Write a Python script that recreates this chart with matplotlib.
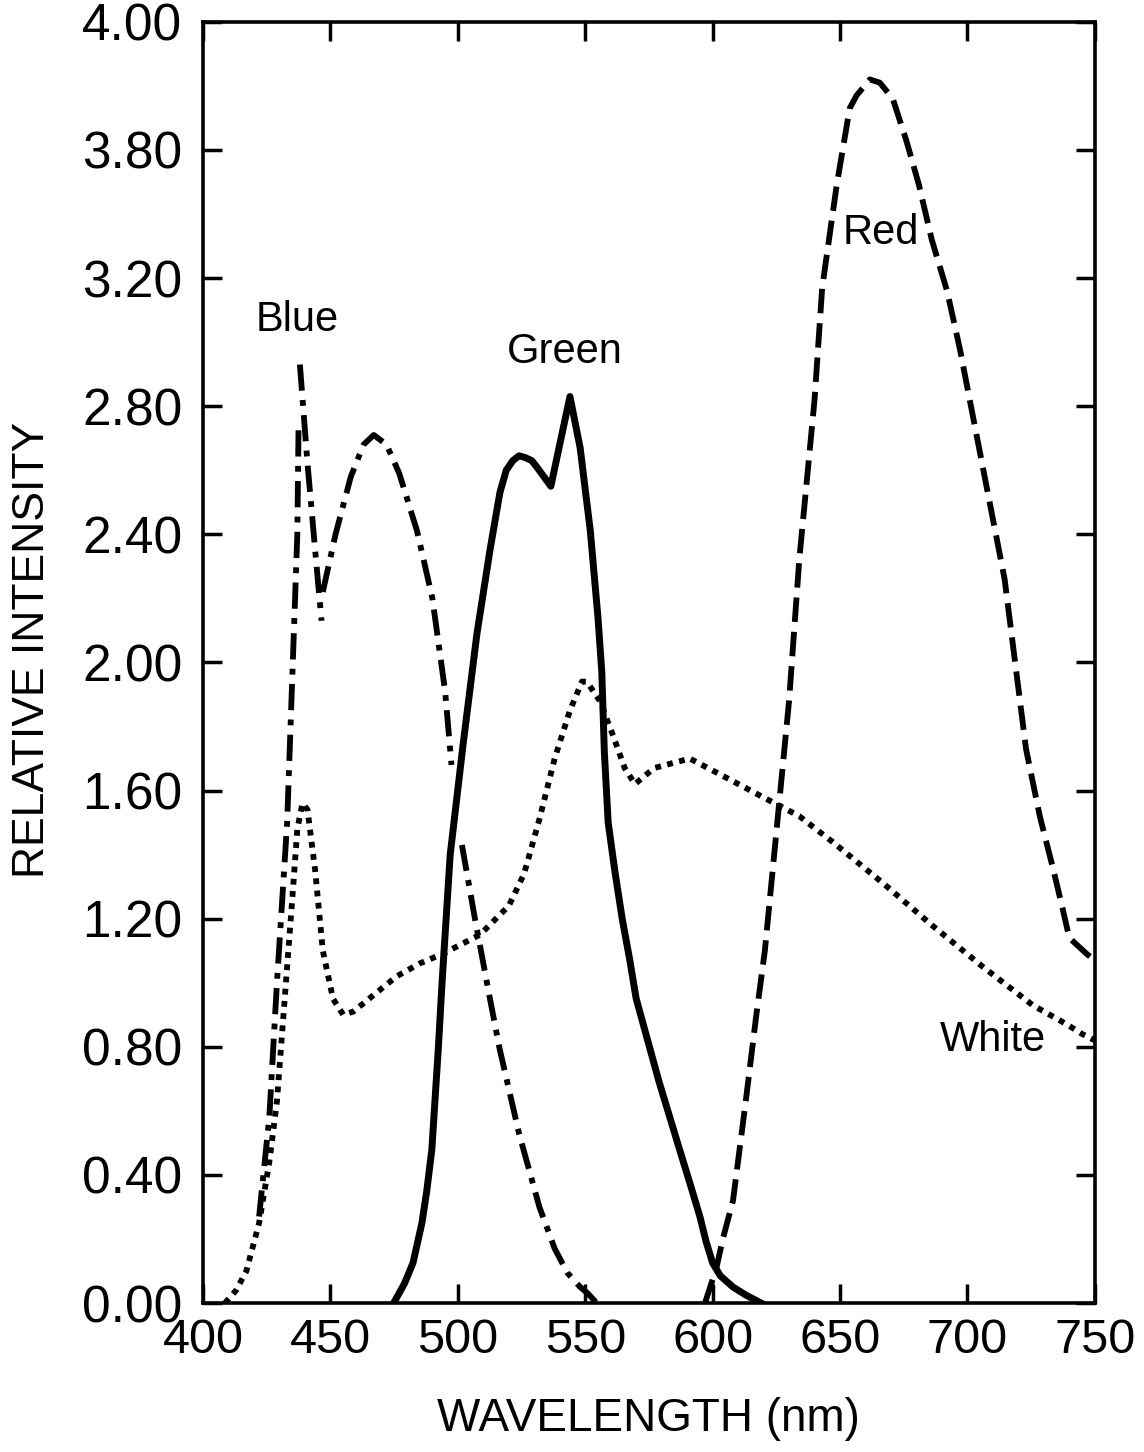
import numpy as np
import matplotlib
matplotlib.use("Agg")
import matplotlib.pyplot as plt

nan = np.nan

# Blue (drawn in several strokes, NaN = pen lifted)
blue_x = [422, 426, 429, 433, 437, 437.5, nan,
          438, 441, 444, 446.5, nan,
          447, 452, 458, 463, 467, 472, 477, 484, 490, 495, 497.5, nan,
          501.6, 506.7, 512.6, 516.5, 524, 532, 538, 543, 548, 551, 554.5]
blue_y = [0.27, 0.58, 1.00, 1.50, 2.40, 2.75, nan,
          2.93, 2.62, 2.35, 2.13, nan,
          2.22, 2.40, 2.58, 2.68, 2.71, 2.68, 2.59, 2.41, 2.20, 1.91, 1.68, nan,
          1.43, 1.20, 0.95, 0.79, 0.53, 0.30, 0.17, 0.094, 0.05, 0.03, 0.0]

green_x = [474.8, 479, 482.4, 485.9, 487.8, 489.8, 491, 492.3, 493.8, 497, 502, 507.5,
           512.6, 516.5, 519, 521.6, 524, 526.3, 529, 531, 536.5, 544, 548, 552,
           555, 556.5, 557.5, 559, 561.6, 564.5, 567.5, 570, 579, 587, 592, 595,
           597.5, 600, 603, 608, 613, 619]
green_y = [0.0, 0.06, 0.125, 0.25, 0.35, 0.48, 0.63, 0.79, 1.00, 1.40, 1.74, 2.09,
           2.35, 2.53, 2.60, 2.63, 2.645, 2.64, 2.63, 2.61, 2.55, 2.83, 2.67, 2.41,
           2.14, 1.97, 1.72, 1.50, 1.35, 1.20, 1.07, 0.95, 0.69, 0.48, 0.35, 0.27,
           0.19, 0.125, 0.085, 0.05, 0.025, 0.0]

red_x = [597, 601.5, 604, 608, 613, 617, 620.5, 624.4, 630, 634, 640, 643, 648.7,
         653.8, 656.5, 661.7, 665.6, 670.7, 676, 681, 686, 692, 697, 707, 714.6,
         723, 728.4, 733.5, 737.4, 740, 746.8, 750]
red_y = [0.0, 0.11, 0.20, 0.32, 0.63, 0.89, 1.10, 1.42, 1.88, 2.32, 2.82, 3.17, 3.49,
         3.73, 3.77, 3.82, 3.81, 3.76, 3.63, 3.49, 3.32, 3.16, 2.98, 2.57, 2.26,
         1.73, 1.52, 1.36, 1.23, 1.14, 1.09, 1.07]

white_x = [408.6, 413, 417, 422, 426, 429, 431, 433, 435, 437, 439, 441, 444, 447,
           451, 455, 459, 466.7, 476, 485, 494, 508.7, 520, 526, 532, 538, 544,
           548.7, 550.6, 555.7, 561, 565.5, 569.5, 577, 591, 603, 622, 634, 647,
           667, 686, 706, 725.6, 739, 745, 750]
white_y = [0.0, 0.04, 0.10, 0.25, 0.44, 0.63, 0.84, 1.05, 1.26, 1.48, 1.56, 1.54,
           1.35, 1.10, 0.95, 0.90, 0.91, 0.96, 1.02, 1.06, 1.09, 1.15, 1.24, 1.34,
           1.51, 1.70, 1.85, 1.94, 1.94, 1.88, 1.77, 1.67, 1.62, 1.67, 1.70, 1.65,
           1.57, 1.52, 1.44, 1.31, 1.18, 1.05, 0.93, 0.87, 0.84, 0.82]

x_ticks = [400, 450, 500, 550, 600, 650, 700, 750]
y_ticks = [0.0, 0.4, 0.8, 1.2, 1.6, 2.0, 2.4, 2.8, 3.2, 3.6, 4.0]
y_tick_labels = ["0.00", "0.40", "0.80", "1.20", "1.60", "2.00", "2.40", "2.80",
                 "3.20", "3.80", "4.00"]

plt.rcParams["font.family"] = ["Liberation Sans", "DejaVu Sans"]

fig = plt.figure(figsize=(11.44, 14.52), dpi=100)
ax = fig.add_axes([0.1775, 0.1026, 0.957 - 0.1775, 0.985 - 0.1026])

lw = 4.2
ax.plot(blue_x, blue_y, color="black", lw=lw, dashes=(4.5, 1.6, 1.0, 1.6),
        dash_capstyle="butt")
ax.plot(green_x, green_y, color="black", lw=lw + 0.8, solid_joinstyle="round")
ax.plot(red_x, red_y, color="black", lw=lw, dashes=(4.2, 1.7), dash_capstyle="butt")
ax.plot(white_x, white_y, color="black", lw=lw, dashes=(1.0, 1.1),
        dash_capstyle="butt")

ax.set_xlim(400, 750)
ax.set_ylim(0, 4.0)
ax.set_xticks(x_ticks)
ax.set_yticks(y_ticks)
ax.set_yticklabels(y_tick_labels)
ax.tick_params(direction="in", length=14, width=2.5, top=True, right=True)
ax.tick_params(axis="y", labelsize=37, pad=15)
ax.tick_params(axis="x", labelsize=35, pad=11)
for s in ax.spines.values():
    s.set_linewidth(2.6)

ax.set_xlabel("WAVELENGTH (nm)", fontsize=33, labelpad=24)
ax.set_ylabel("RELATIVE INTENSITY", fontsize=32)
ax.yaxis.set_label_coords(-0.168, 0.51)

ax.text(437, 3.07, "Blue", fontsize=30, ha="center", va="center")
ax.text(542, 2.97, "Green", fontsize=30, ha="center", va="center")
ax.text(666, 3.34, "Red", fontsize=30, ha="center", va="center")
ax.text(710, 0.82, "White", fontsize=30, ha="center", va="center")

fig.savefig("out.png", dpi=100)
